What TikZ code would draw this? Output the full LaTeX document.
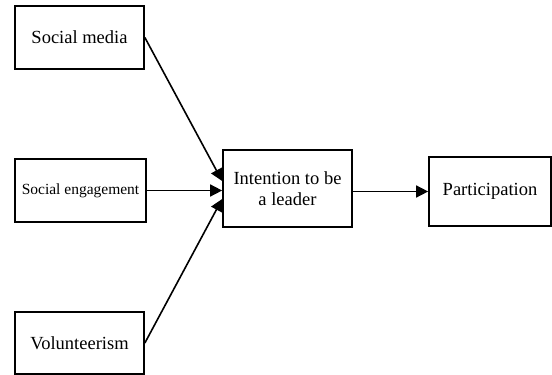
\documentclass[tikz,border=0pt]{standalone}
\usepackage{fontspec}
\setmainfont{Liberation Serif}
\usetikzlibrary{arrows.meta}
\begin{document}
\begin{tikzpicture}[x=1pt,y=-1pt,
  box/.style={draw,line width=1.7pt,inner sep=0pt,font=\fontsize{18.5}{21.5}\selectfont,align=center},
  conn/.style={line width=1.6pt,-{Triangle[length=12pt,width=12pt]}}]
\useasboundingbox (0,0) rectangle (552,375);
\node[box,minimum width=129pt,minimum height=63pt] (sm) at (79.5,37.5) {Social media};
\node[box,minimum width=131pt,minimum height=63pt,font=\fontsize{15.5}{18}\selectfont] (se) at (80.5,190.5) {Social engagement};
\node[box,minimum width=129pt,minimum height=62pt] (vo) at (79.5,343) {Volunteerism};
\node[box,minimum width=129pt,minimum height=77pt] (il) at (287.5,188.5) {Intention to be\\a leader};
\node[box,minimum width=122pt,minimum height=69pt] (pa) at (490,191.5) {Participation};
\draw[conn] (sm.east) -- (il.west |- 0,181);
\draw[conn] (se.east) -- (il.west |- se.east);
\draw[conn] (vo.east) -- (il.west |- 0,199);
\draw[conn] (il.east |- pa.west) -- (pa.west);
\end{tikzpicture}
\end{document}
